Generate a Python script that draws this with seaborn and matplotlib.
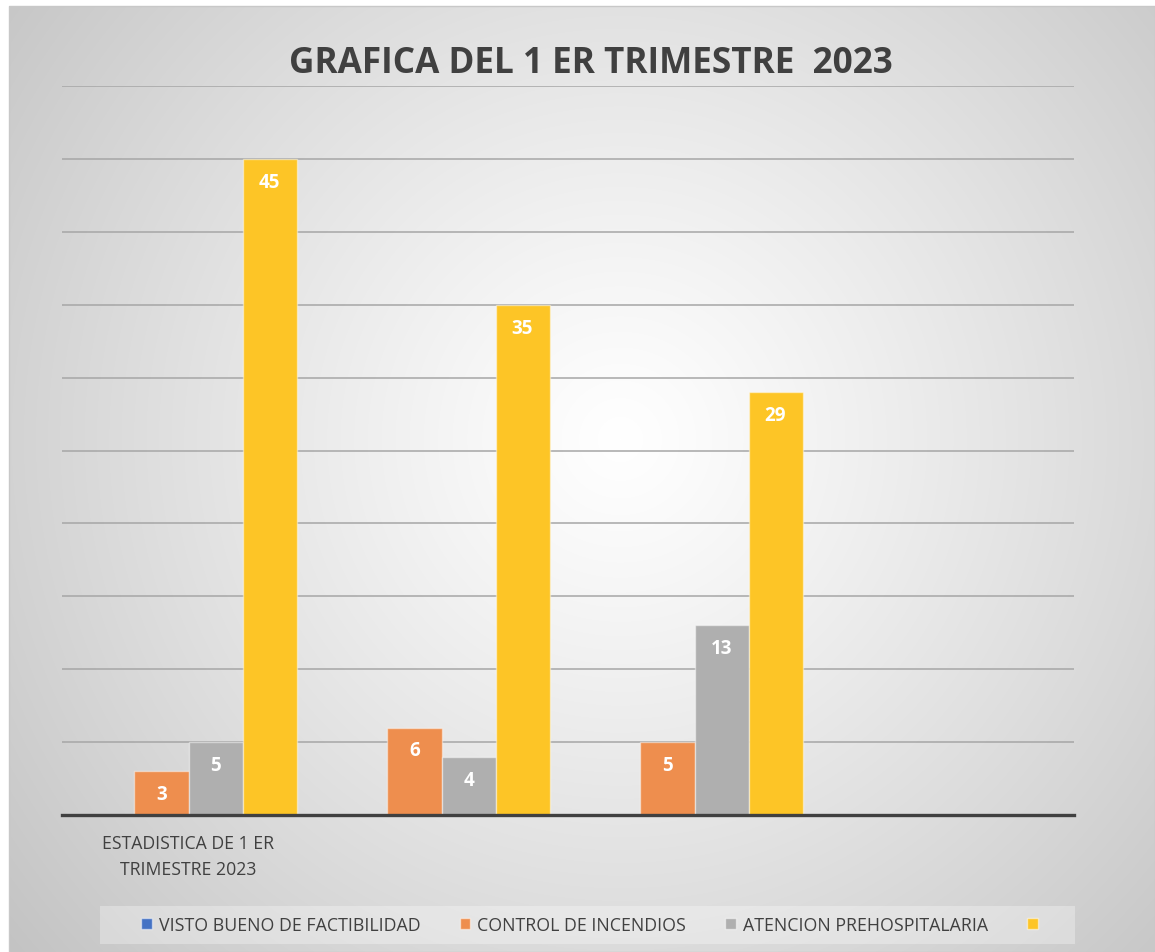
import numpy as np
import pandas as pd
import matplotlib
matplotlib.use("Agg")
import matplotlib.pyplot as plt
from matplotlib.patches import Patch, Rectangle
import seaborn as sns

# Datos
grupos = ["G1", "G2", "G3", "G4"]
etiquetas_x = ["ESTADISTICA DE 1 ER\nTRIMESTRE 2023", "", "", ""]
series = ["VISTO BUENO DE FACTIBILIDAD", "CONTROL DE INCENDIOS",
          "ATENCION PREHOSPITALARIA", ""]
visto_bueno = [0, 0, 0, np.nan]
control_incendios = [3, 6, 5, np.nan]
atencion_prehosp = [5, 4, 13, np.nan]
serie_4 = [45, 35, 29, np.nan]
colores = ["#4472C4", "#EE8E4E", "#AFAFAF", "#FDC526"]
titulo = "GRAFICA DEL 1 ER TRIMESTRE  2023"

valores = [visto_bueno, control_incendios, atencion_prehosp, serie_4]
filas = []
for s, vals in zip(series, valores):
    for g, v in zip(grupos, vals):
        filas.append({"grupo": g, "serie": s, "valor": v})
df = pd.DataFrame(filas).dropna()

sns.set_theme(style="white")
plt.rcParams["font.family"] = ["Open Sans", "DejaVu Sans"]

W, H = 1155, 953
fig = plt.figure(figsize=(W / 100, H / 100), dpi=100)

# fondo con degradado radial
bg = fig.add_axes([0, 0, 1, 1], zorder=-5)
yy, xx = np.mgrid[7:H, 9:W]
r = np.hypot(xx - 620, yy - 440) / 820
gris = 255 - 62 * np.clip(r, 0, 1) ** 1.15
img = np.dstack([gris, gris, gris]).astype(np.uint8)
bg.imshow(img, extent=[9, W, H, 7], aspect="auto")
bg.add_patch(Rectangle((9, 7), W - 9, H - 7, fill=False, ec="#c8c8c8", lw=1))
bg.add_patch(Rectangle((100, 907), 975, 38, fc="white", alpha=0.3, ec="none"))
bg.set_xlim(0, W)
bg.set_ylim(H, 0)
bg.axis("off")

ax = fig.add_axes([62 / W, 137 / H, 1012 / W, 729 / H])
ax.set_facecolor("none")
sns.barplot(data=df, x="grupo", y="valor", hue="serie", order=grupos,
            hue_order=series, palette=colores, width=0.854, legend=False,
            saturation=1, edgecolor=(1, 1, 1, 0.45), linewidth=1, ax=ax,
            zorder=3)

ax.set_ylim(0, 50)
ax.set_xlim(-0.5, 3.5)
ax.set_yticks(np.arange(5, 51, 5))
ax.set_yticklabels([])
ax.yaxis.grid(True, color="#a6a6a6", lw=1.1, zorder=0)
ax.set_axisbelow(True)
for lado in ["left", "right", "top"]:
    ax.spines[lado].set_visible(False)
ax.spines["bottom"].set_color("#404040")
ax.spines["bottom"].set_linewidth(2.4)
ax.spines["bottom"].set_zorder(5)
ax.tick_params(axis="both", length=0)
ax.set_xticks(range(len(grupos)))
ax.set_xticklabels(etiquetas_x, fontsize=12.7, color="#404040", linespacing=1.55)
ax.tick_params(axis="x", pad=14)
ax.set_xlabel("")
ax.set_ylabel("")

# etiquetas de datos
for cont in ax.containers:
    for barra in cont:
        h = barra.get_height()
        if np.isnan(h) or h == 0:
            continue
        ax.annotate(f"{h:.0f}", (barra.get_x() + barra.get_width() / 2, h),
                    xytext=(0, -16.5), textcoords="offset points",
                    ha="center", va="center", color="white",
                    fontsize=13.5, fontweight="bold", zorder=6)

fig.text(591 / W, 1 - 64 / H, titulo, ha="center", va="center",
         fontsize=25.3, fontweight="bold", color="#404040")

manijas = [Patch(facecolor=c, edgecolor=(1, 1, 1, 0.5)) for c in colores]
fig.legend(manijas, series, loc="center left",
           bbox_to_anchor=(141 / W, 1 - 926 / H), ncol=4, frameon=False,
           fontsize=12.8, labelcolor="#404040", handlelength=0.6,
           handleheight=0.55, handletextpad=0.4, columnspacing=2.2,
           borderpad=0, borderaxespad=0)

fig.savefig("out.png", dpi=100)
